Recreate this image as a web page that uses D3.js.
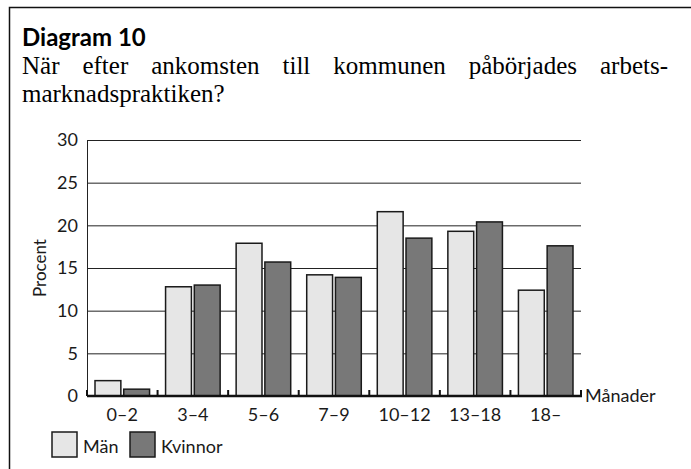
<!DOCTYPE html>
<html>
<head>
<meta charset="utf-8">
<script src="https://cdn.jsdelivr.net/npm/d3@7"></script>
<style>
  body { margin: 0; background: #fff; }
  svg { display: block; }
  .sans { font-family: Lato, "Open Sans", sans-serif; font-weight: 400; fill: #1a1a1a; }
</style>
</head>
<body>
<script>
var width = 691,
    height = 469;

// data
var categories = ["0–2", "3–4", "5–6", "7–9", "10–12", "13–18", "18–"];
var series = ["Män", "Kvinnor"];
var man = [1.8, 12.8, 17.9, 14.2, 21.6, 19.3, 12.4];
var kvinnor = [0.8, 13.0, 15.7, 13.9, 18.5, 20.4, 17.6];
var yTicks = [0, 5, 10, 15, 20, 25, 30];
var colors = ["#e6e6e6", "#787878"];

var svg = d3.select('body').append('svg')
    .attr('width', width)
    .attr('height', height);

/* ============================ FRAME + HEADER ============================ */
svg.append('path')
    .attr('d', 'M9.5,469V7.5H691')
    .attr('fill', 'none')
    .attr('stroke', '#111')
    .attr('stroke-width', 1.5);

svg.append('text')
    .attr('x', 22).attr('y', 46)
    .style('font-family', 'Lato, "Open Sans", sans-serif')
    .style('font-weight', 700)
    .style('font-size', '24px')
    .text('Diagram 10');

// justified first line, left aligned second
function justify(words, xa, xb, yy) {
  var t = svg.append('g')
      .style('font-family', '"Liberation Serif", "DejaVu Serif", serif')
      .style('font-size', '25px')
    .selectAll('text').data(words).enter().append('text')
      .attr('y', yy).text(d => d);
  var lens = [];
  t.each(function() { lens.push(this.getComputedTextLength()); });
  var total = d3.sum(lens),
      gap = (xb - xa - total) / (words.length - 1),
      x = xa;
  t.attr('x', function(d, i) { var p = x; x += lens[i] + gap; return p; });
}
justify("När efter ankomsten till kommunen påbörjades arbets-".split(' '), 22, 668, 74);

svg.append('text')
    .attr('x', 22).attr('y', 102)
    .style('font-family', '"Liberation Serif", "DejaVu Serif", serif')
    .style('font-size', '25px')
    .text('marknadspraktiken?');

/* ============================ CHART ============================ */
var pLeft = 87, pRight = 581, pTop = 140, pBottom = 396;

var x0 = d3.scaleBand().domain(categories).range([pLeft, pRight]);
var x1 = d3.scaleBand().domain(series)
    .range([8, x0.bandwidth() - 8]).paddingInner(0.1);
var y = d3.scaleLinear().domain([0, 30]).range([pBottom, pTop]);

var g = svg.append('g');

// gridlines
g.selectAll('.grid')
    .data(yTicks.filter(d => d > 0))
  .enter().append('line')
    .attr('x1', pLeft).attr('x2', pRight)
    .attr('y1', d => y(d) + 0.5).attr('y2', d => y(d) + 0.5)
    .attr('stroke', '#222')
    .attr('stroke-width', 1);

// y axis line
g.append('line')
    .attr('x1', pLeft + 0.5).attr('x2', pLeft + 0.5)
    .attr('y1', y(30)).attr('y2', y(0))
    .attr('stroke', '#222');

// tick labels
g.selectAll('.ylab')
    .data(yTicks)
  .enter().append('text')
    .attr('class', 'sans')
    .attr('x', 78)
    .attr('y', d => y(d))
    .attr('dy', '0.36em')
    .attr('text-anchor', 'end')
    .style('font-size', '18px')
    .text(d => d);

g.append('text')
    .attr('class', 'sans')
    .attr('transform', 'translate(46,' + (pTop + pBottom) / 2 + ') rotate(-90)')
    .attr('text-anchor', 'middle')
    .style('font-size', '17px')
    .text('Procent');

// bars
var rows = categories.map(function(c, i) {
  return { cat: c, vals: [man[i], kvinnor[i]] };
});

var grp = g.selectAll('.cat')
    .data(rows)
  .enter().append('g')
    .attr('transform', d => 'translate(' + x0(d.cat) + ',0)');

grp.selectAll('rect')
    .data(d => d.vals.map((v, i) => ({ s: series[i], v: v, i: i })))
  .enter().append('rect')
    .attr('x', d => x1(d.s))
    .attr('y', d => y(d.v))
    .attr('width', x1.bandwidth())
    .attr('height', d => y(0) - y(d.v))
    .attr('fill', d => colors[d.i])
    .attr('stroke', '#1a1a1a')
    .attr('stroke-width', 1.5);

// baseline with small ticks at category borders
var bounds = categories.map(c => x0(c)).concat([pRight]);
g.append('line')
    .attr('x1', pLeft).attr('x2', pRight + 1)
    .attr('y1', pBottom).attr('y2', pBottom)
    .attr('stroke', '#111')
    .attr('stroke-width', 2.5);
g.selectAll('.xtick')
    .data(bounds)
  .enter().append('line')
    .attr('x1', d => d).attr('x2', d => d)
    .attr('y1', pBottom).attr('y2', pBottom - 6)
    .attr('stroke', '#111')
    .attr('stroke-width', 2);

g.selectAll('.xlab')
    .data(categories)
  .enter().append('text')
    .attr('class', 'sans')
    .attr('x', d => x0(d) + x0.bandwidth() / 2)
    .attr('y', 421)
    .attr('text-anchor', 'middle')
    .style('font-size', '18px')
    .text(d => d);

g.append('text')
    .attr('class', 'sans')
    .attr('x', 585).attr('y', 402)
    .style('font-size', '18px')
    .text('Månader');

/* ============================ LEGEND ============================ */
var leg = svg.append('g').attr('transform', 'translate(52,432)');
var items = leg.selectAll('g')
    .data(series)
  .enter().append('g')
    .attr('transform', (d, i) => 'translate(' + i * 78 + ',0)');
items.append('rect')
    .attr('width', 25).attr('height', 25)
    .attr('fill', (d, i) => colors[i])
    .attr('stroke', '#1a1a1a')
    .attr('stroke-width', 1.5);
items.append('text')
    .attr('class', 'sans')
    .attr('x', 31).attr('y', 21)
    .style('font-size', '18px')
    .text(d => d);
</script>
</body>
</html>
